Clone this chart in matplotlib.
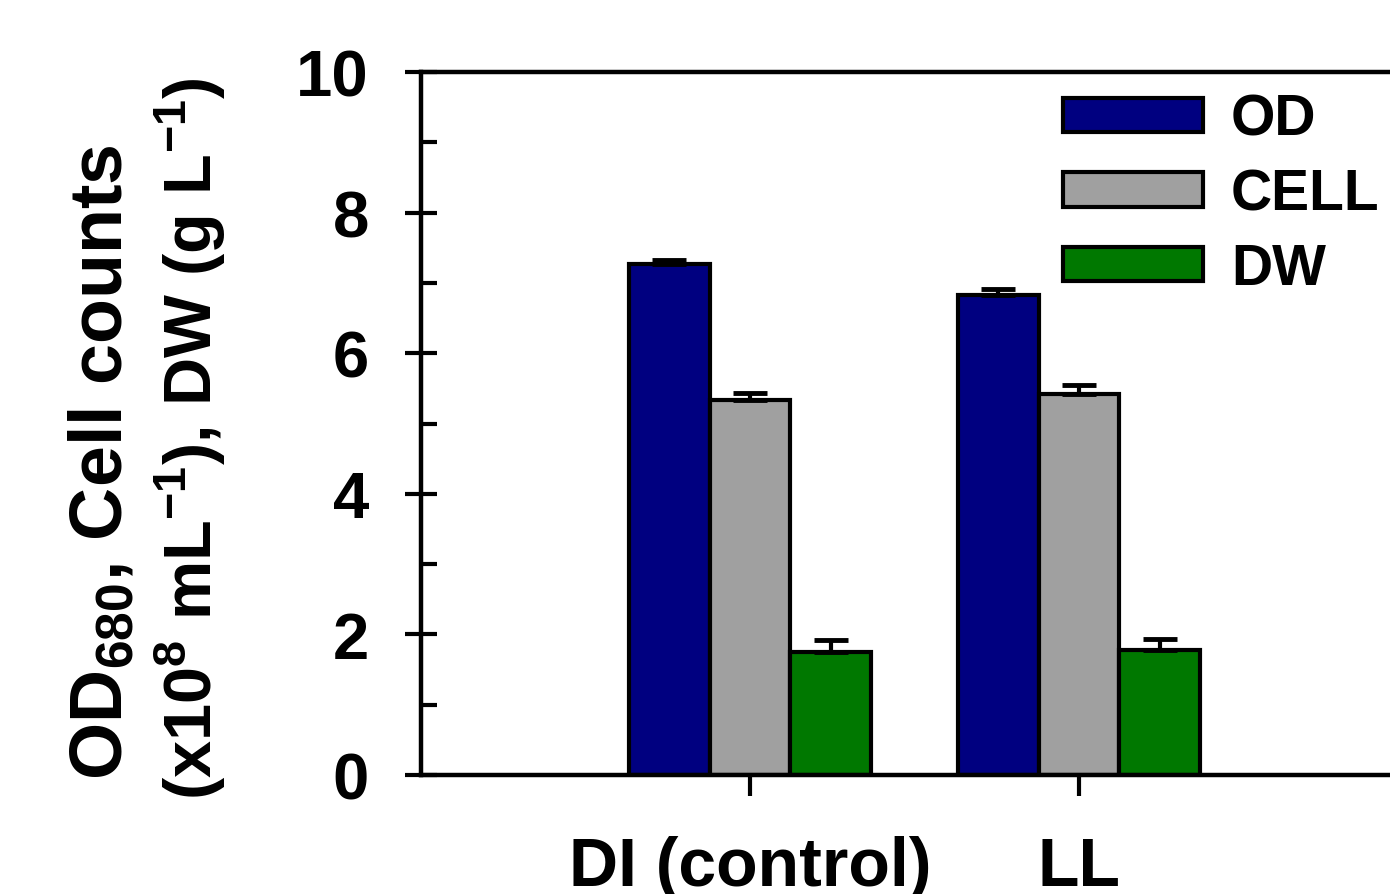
import matplotlib
matplotlib.use('Agg')
import matplotlib.pyplot as plt
import numpy as np

# ---- data ----
categories = ['DI (control)', 'LL']
series_names = ['OD', 'CELL', 'DW']
od_vals = [7.27, 6.83]
od_err = [0.06, 0.08]
cell_vals = [5.33, 5.42]
cell_err = [0.10, 0.13]
dw_vals = [1.75, 1.78]
dw_err = [0.17, 0.15]
y_major = [0, 2, 4, 6, 8, 10]
y_minor = [1, 3, 5, 7, 9]

colors = ['#000080', '#A0A0A0', '#007800']

plt.rcParams['font.family'] = ['Liberation Sans', 'DejaVu Sans']
plt.rcParams['font.weight'] = 'bold'
plt.rcParams['mathtext.fontset'] = 'custom'
plt.rcParams['mathtext.rm'] = 'Liberation Sans:bold'
plt.rcParams['mathtext.it'] = 'Liberation Sans:bold'
plt.rcParams['mathtext.bf'] = 'Liberation Sans:bold'
plt.rcParams['mathtext.default'] = 'bf'

fig = plt.figure(figsize=(13.9, 8.95), dpi=100)
ax = fig.add_axes([421/1390, 1-776/895, (1408-421)/1390, (776-73)/895])

x = np.arange(len(categories))
w = 0.245
data = [(od_vals, od_err), (cell_vals, cell_err), (dw_vals, dw_err)]
handles = []
for i, ((vals, errs), c, nm) in enumerate(zip(data, colors, series_names)):
    pos = x + (i - 1) * w
    b = ax.bar(pos, vals, w, color=c, edgecolor='black', linewidth=3, label=nm, zorder=2)
    handles.append(b)
    ax.errorbar(pos, vals, yerr=[np.zeros(len(vals)), errs], fmt='none', ecolor='black',
                elinewidth=3, capsize=12, capthick=3.5, zorder=3)

ax.set_xlim(-1, 2)
ax.set_ylim(0, 10)
ax.set_yticks(y_major)
ax.set_yticks(y_minor, minor=True)
ax.set_xticks(x)
ax.set_xticklabels(categories, fontsize=49, fontweight='bold')
ax.tick_params(axis='y', which='major', direction='inout', length=23, width=3, labelsize=47, pad=26)
ax.tick_params(axis='y', which='minor', direction='in', length=11.5, width=3)
ax.tick_params(axis='x', which='major', direction='out', length=15, width=3, pad=28)
for s in ax.spines.values():
    s.set_linewidth(3.2)

fig.text(102/1390, 1-462/895, 'OD$_{680}$, Cell counts', rotation=90, ha='center', va='center',
         fontsize=53, fontweight='bold')
fig.text(190/1390, 1-439/895, '(x10$^{8}$ mL$^{-1}$), DW (g L$^{-1}$)', rotation=90, ha='center',
         va='center', fontsize=48, fontweight='bold')

ax.legend(handles=handles, labels=series_names, loc='upper left',
          bbox_to_anchor=(1063/1390, 1-94/895), bbox_transform=fig.transFigure,
          frameon=False, fontsize=41, handlelength=2.45, handleheight=0.56,
          handletextpad=0.5, labelspacing=0.36, borderpad=0, borderaxespad=0)

fig.savefig('out.png', dpi=100)
